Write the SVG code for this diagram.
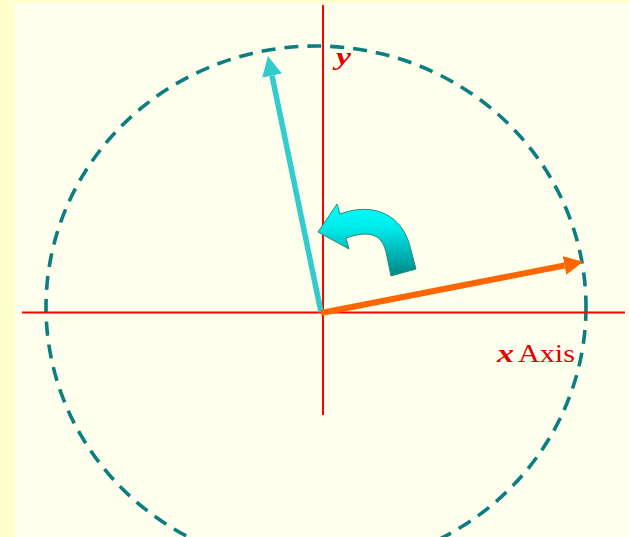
<svg xmlns="http://www.w3.org/2000/svg" width="629" height="537" viewBox="0 0 629 537">
<defs>
<style>
.axis{stroke:#FF0000;stroke-width:2;fill:none}
.lbl{font-family:"Liberation Serif","DejaVu Serif",serif;font-size:25px;fill:#E60000}
.math{font-weight:bold;font-style:italic}
</style>
<linearGradient id="turn" x1="0" y1="0" x2="0" y2="1">
<stop offset="0" stop-color="#00FFFF"/>
<stop offset="0.35" stop-color="#00E8E8"/>
<stop offset="1" stop-color="#008585"/>
</linearGradient>
<marker id="headCyan" viewBox="0 0 20 20" refX="0" refY="10" markerWidth="20" markerHeight="20" markerUnits="userSpaceOnUse" orient="auto">
<path d="M0,0 L20,10 L0,20 Z" fill="#33CCCC"/>
</marker>
<marker id="headOrange" viewBox="0 0 20 20" refX="0" refY="10" markerWidth="19" markerHeight="19" markerUnits="userSpaceOnUse" orient="auto">
<path d="M0,0 L20,10 L0,20 Z" fill="#FF6600"/>
</marker>
</defs>
<rect x="0" y="0" width="629" height="537" fill="#FFFFCC"/>
<rect x="15" y="3" width="614" height="534" fill="#FFFFEE"/>
<g id="circle">
<ellipse cx="316" cy="307" rx="270" ry="261" fill="none" stroke="#0A7E80" stroke-width="3.6" stroke-dasharray="14 9"/>
</g>
<g id="axes">
<line class="axis" x1="22" y1="312.5" x2="625" y2="312.5"/>
<line class="axis" x1="323" y1="5" x2="323" y2="415"/>
</g>
<g id="connectors">
<line x1="321" y1="312" x2="272" y2="75.6" stroke="#33CCCC" stroke-width="5.5" marker-end="url(#headCyan)"/>
<line x1="321" y1="313" x2="564.5" y2="265.5" stroke="#FF6600" stroke-width="6" marker-end="url(#headOrange)"/>
</g>
<g id="rotation-arrow">
<path d="M318,232 L337,204 L340,214 C372,202 403,213 411,250 L416,269 L391,276 L386,252 C382,236 372,229 346,238 L349,249 Z" fill="url(#turn)" stroke="#2E8B72" stroke-width="1"/>
</g>
<g id="label-y">
<text class="lbl math" x="336" y="65" textLength="15" lengthAdjust="spacingAndGlyphs">y</text>
</g>
<g id="label-x">
<text class="lbl math" x="497" y="362" textLength="17" lengthAdjust="spacingAndGlyphs">x</text>
<text class="lbl" x="518" y="362" textLength="57" lengthAdjust="spacingAndGlyphs">Axis</text>
</g>
</svg>
